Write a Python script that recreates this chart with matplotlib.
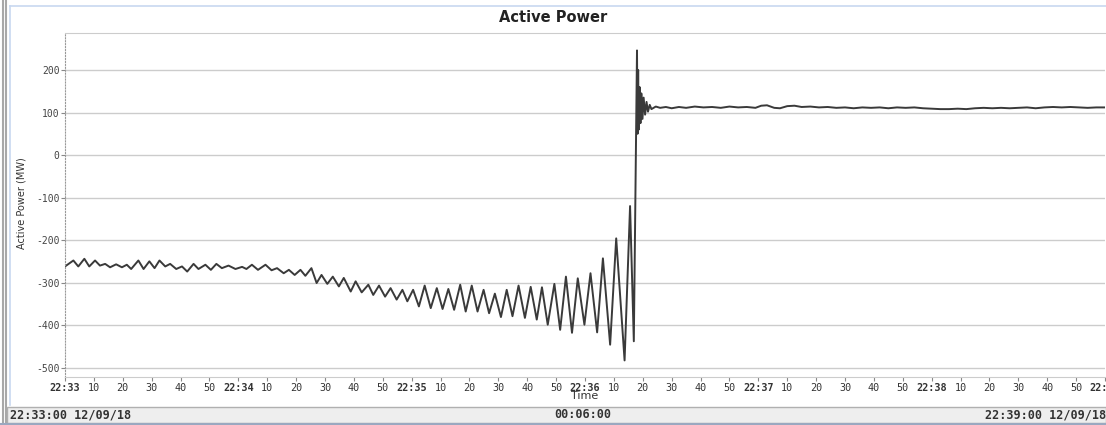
import numpy as np
import matplotlib
matplotlib.use("Agg")
import matplotlib.pyplot as plt
from matplotlib.lines import Line2D
from matplotlib.patches import Rectangle

plt.rcParams['axes.unicode_minus'] = False

# seconds after 22:33:00 and active power (MW)
t_s = [0, 2.9, 4.6, 6.7, 8.4, 10.4, 12.1, 13.9, 15.6, 17.7, 19.7, 21.4, 22.9,
       25.4, 27.2, 29.2, 31.0, 32.7, 34.7, 36.4, 38.5, 40.5, 42.3, 44.5, 46.2,
       48.6, 50.5, 52.4, 54.3, 56.6, 59.0, 61.3, 62.8, 64.7, 66.8, 69.4, 71.5,
       73.4, 75.7, 77.5, 79.5, 81.5, 83.2, 85.3, 87.1, 88.8, 90.8, 92.7, 94.8,
       96.5, 98.9, 100.6, 102.7, 105.0, 106.7, 108.7, 110.8, 112.7, 114.8,
       116.8, 118.5, 120.5, 122.5, 124.5, 126.6, 128.7, 130.7, 132.7, 134.7,
       136.8, 138.7, 140.8, 142.8, 144.9, 146.8, 148.8, 150.9, 152.9, 154.9,
       157.0, 159.2, 161.2, 163.3, 165.1, 167.1, 169.4, 171.4, 173.4, 175.5,
       177.5, 179.8, 181.9, 184.2, 186.2, 188.7, 190.8, 193.7, 195.6, 196.9,
       198.0, 198.2, 198.4, 198.6, 198.9, 199.2, 199.5, 199.9, 200.3, 200.8,
       201.3, 201.8, 202.4, 203.0, 204.5, 206, 208, 210, 212.5, 215, 218, 221,
       224, 227, 230, 233, 236, 239, 241, 243, 245.5, 247.5, 250, 252.5, 255,
       258, 261, 264, 267, 270, 273, 276, 279, 282, 285, 288, 291, 294, 297,
       300, 303, 306, 309, 312, 315, 318, 321, 324, 327, 330, 333, 336, 339,
       342, 345, 348, 351, 354, 357, 360]
p_mw = [-262, -248, -262, -244, -262, -248, -260, -256, -264, -257, -264, -258,
        -268, -248, -268, -250, -266, -248, -262, -256, -268, -262, -274, -256,
        -268, -258, -270, -256, -266, -260, -268, -263, -268, -258, -270, -258,
        -271, -266, -278, -270, -282, -270, -284, -266, -301, -282, -303, -286,
        -309, -289, -321, -297, -323, -305, -329, -307, -333, -313, -340, -317,
        -344, -317, -356, -307, -360, -313, -362, -315, -364, -305, -368, -307,
        -368, -317, -372, -326, -381, -317, -379, -307, -383, -310, -387, -311,
        -399, -303, -411, -286, -418, -290, -399, -278, -417, -243, -446, -196,
        -483, -120, -438,
        246, 50, 200, 60, 160, 75, 145, 85, 135, 95, 125, 102, 118, 108,
        114, 111, 113, 110, 113, 111, 114, 112, 113, 111, 114, 112, 113, 111,
        116, 117, 111, 110, 115, 116, 113, 114, 112, 113, 111, 112, 110, 112,
        111, 112, 110, 112, 111, 112, 110, 109, 108, 108, 109, 108, 110, 111,
        110, 111, 110, 111, 112, 110, 112, 113, 112, 113, 112, 111, 112, 112]

y_ticks = [200, 100, 0, -100, -200, -300, -400, -500]
minute_labels = ['22:33', '22:34', '22:35', '22:36', '22:37', '22:38', '22:39']

W, H = 1106, 425
fig = plt.figure(figsize=(W / 100, H / 100), dpi=100)
fig.patch.set_facecolor('white')
ax = fig.add_axes([65 / W, 1 - 377 / H, 1040 / W, 344 / H])

ax.plot(t_s, p_mw, color='#3a3a3a', lw=1.4, solid_joinstyle='round')

ax.set_xlim(0, 360)
ax.set_ylim(-522, 287)

for v in y_ticks:
    ax.axhline(v, color='#cccccc', lw=1, zorder=0)

ax.set_yticks(y_ticks)
ax.set_yticklabels([str(v) for v in y_ticks], family='DejaVu Sans Mono',
                   fontsize=7, color='#444444')

xt = list(range(0, 361, 10))
xl = []
for s in xt:
    if s % 60 == 0:
        xl.append(minute_labels[s // 60])
    else:
        xl.append(str(s % 60))
ax.set_xticks(xt)
ax.set_xticklabels(xl, family='DejaVu Sans Mono', fontsize=7.3, color='#333333')
for lab, s in zip(ax.get_xticklabels(), xt):
    if s % 60 == 0:
        lab.set_fontweight('bold')
ax.tick_params(axis='x', length=3, width=0.8, color='#888888', pad=1)
ax.tick_params(axis='y', length=3, width=0.8, color='#888888', pad=1)

for side in ['top', 'bottom']:
    ax.spines[side].set_color('#cccccc')
ax.spines['right'].set_visible(False)
ax.spines['left'].set_color('#999999')
ax.spines['left'].set_linestyle(':')

fig.text(0.5, 1 - 18 / H, 'Active Power', ha='center', va='center',
         fontsize=10.5, fontweight='bold', color='#222222')
fig.text(22 / W, 1 - 203 / H, 'Active Power (MW)', rotation=90, ha='center',
         va='center', fontsize=7, color='#333333')
fig.text(585 / W, 1 - 396 / H, 'Time', ha='center', va='center',
         fontsize=8, color='#333333')

# window frame and status bar
fig.add_artist(Line2D([3 / W, 3 / W], [0, 1], color='#a8a8a8', lw=1.5))
fig.add_artist(Line2D([6 / W, 6 / W], [0, 1], color='#a8a8a8', lw=1.5))
fig.add_artist(Line2D([10 / W, 10 / W], [1 - 405 / H, 1 - 6 / H], color='#c8d8f0', lw=1.2))
fig.add_artist(Line2D([10 / W, 1], [1 - 6 / H, 1 - 6 / H], color='#c8d8f0', lw=1.2))
fig.add_artist(Rectangle((7 / W, 1 - 423 / H), 1 - 7 / W, 16 / H,
                         facecolor='#eeeeee', edgecolor='#b0b0b0', lw=1))
fig.add_artist(Line2D([0, 1], [1 - 424 / H, 1 - 424 / H], color='#9aa8c0', lw=1.5))
bar_y = 1 - 415 / H
fig.text(10 / W, bar_y, '22:33:00 12/09/18', ha='left', va='center',
         family='DejaVu Sans Mono', fontsize=8.5, fontweight='bold', color='#333333')
fig.text(583 / W, bar_y, '00:06:00', ha='center', va='center',
         family='DejaVu Sans Mono', fontsize=8.5, fontweight='bold', color='#333333')
fig.text(985 / W, bar_y, '22:39:00 12/09/18', ha='left', va='center',
         family='DejaVu Sans Mono', fontsize=8.5, fontweight='bold', color='#333333')

fig.savefig('out.png', dpi=100)
